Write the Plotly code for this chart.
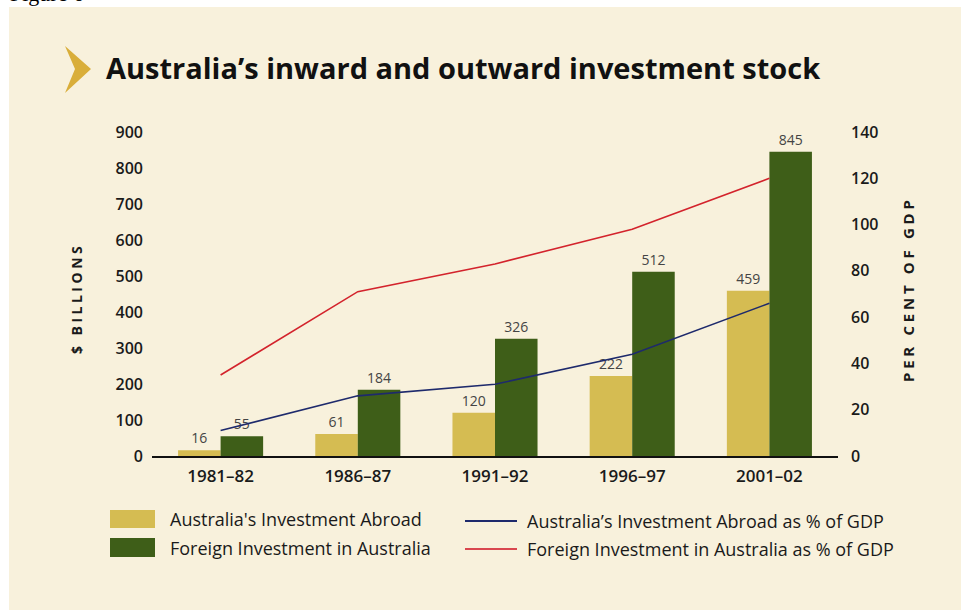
import plotly.graph_objects as go

# ---------------- data ----------------
years = ["1981–82", "1986–87", "1991–92", "1996–97", "2001–02"]
abroad = [16, 61, 120, 222, 459]           # $ billions
foreign = [55, 184, 326, 512, 845]         # $ billions
abroad_pct = [11, 26, 31, 44, 66]          # per cent of GDP
foreign_pct = [35, 71, 83, 98, 120]        # per cent of GDP
series_names = [
    "Australia's Investment Abroad",
    "Foreign Investment in Australia",
    "Australia’s Investment Abroad as % of GDP",
    "Foreign Investment in Australia as % of GDP",
]
left_ticks = list(range(0, 901, 100))
right_ticks = list(range(0, 141, 20))

# ---------------- geometry helpers ----------------
W, H = 961, 610
L, R, T, B = 152, 123, 132, 154
PW, PH = W - L - R, H - T - B


def px(x):
    return (x - L) / PW


def py(y):
    return (H - B - y) / PH


def spaced(s, gap="\u2005", word_gap="\u2002\u2005"):
    return word_gap.join(gap.join(word) for word in s.split(" "))


YELLOW = "#D5BC52"
GREEN = "#3E5E18"
BLUE = "#1E2A6C"
RED = "#D3232C"
CREAM = "#F8F1DC"
FONT = "Open Sans"
TICK_FONT = dict(family=FONT, size=16, color="#1a1a1a", weight=600)
XTICK_FONT = dict(family=FONT, size=17, color="#1a1a1a", weight=600)

fig = go.Figure()
fig.add_trace(go.Bar(
    x=years, y=abroad, name=series_names[0], marker_color=YELLOW,
    marker_line_width=0, text=abroad, textposition="outside",
    textfont=dict(family=FONT, size=14, color="#444444"), cliponaxis=False,
    showlegend=False,
))
fig.add_trace(go.Bar(
    x=years, y=foreign, name=series_names[1], marker_color=GREEN,
    marker_line_width=0, text=foreign, textposition="outside",
    textfont=dict(family=FONT, size=14, color="#444444"), cliponaxis=False,
    showlegend=False,
))
fig.add_trace(go.Scatter(
    x=years, y=abroad_pct, name=series_names[2], yaxis="y2", mode="lines",
    line=dict(color=BLUE, width=1.6), showlegend=False,
))
fig.add_trace(go.Scatter(
    x=years, y=foreign_pct, name=series_names[3], yaxis="y2", mode="lines",
    line=dict(color=RED, width=1.6), showlegend=False,
))

shapes = [
    # cream panel
    dict(type="rect", xref="paper", yref="paper", x0=px(9), x1=px(965),
         y0=py(615), y1=py(7), fillcolor=CREAM, line_width=0, layer="below"),
    # chevron
    dict(type="path", xref="paper", yref="paper",
         path=f"M {px(65)},{py(46)} L {px(91)},{py(69)} L {px(65)},{py(93)} L {px(75)},{py(69)} Z",
         fillcolor="#D9AE3A", line_width=0),
    # x axis baseline
    dict(type="line", xref="paper", yref="paper", x0=0, x1=1, y0=py(457), y1=py(457),
         line=dict(color="#111111", width=2)),
    # legend swatches
    dict(type="rect", xref="paper", yref="paper", x0=px(110), x1=px(155),
         y0=py(528), y1=py(510), fillcolor=YELLOW, line_width=0),
    dict(type="rect", xref="paper", yref="paper", x0=px(110), x1=px(155),
         y0=py(557), y1=py(538), fillcolor=GREEN, line_width=0),
    dict(type="line", xref="paper", yref="paper", x0=px(465), x1=px(517),
         y0=py(521), y1=py(521), line=dict(color=BLUE, width=2)),
    dict(type="line", xref="paper", yref="paper", x0=px(465), x1=px(517),
         y0=py(549), y1=py(549), line=dict(color="#D9474F", width=2)),
]

legend_font = dict(family=FONT, size=18, color="#1a1a1a", weight=500)
annotations = [
    dict(text="Figure 6", xref="paper", yref="paper", x=px(8), y=py(8),
         xanchor="left", yanchor="bottom", showarrow=False,
         font=dict(family="Liberation Serif", size=22, color="#000000")),
    dict(text="<b>Australia’s inward and outward investment stock</b>",
         xref="paper", yref="paper", x=px(104), y=py(67), xanchor="left",
         yanchor="middle", showarrow=False,
         font=dict(family=FONT, size=29, color="#111111")),
    dict(text="<b>" + spaced("$ BILLIONS") + "</b>",
         xref="paper", yref="paper", x=px(76), y=py(300), textangle=-90,
         xanchor="center", yanchor="middle", showarrow=False,
         font=dict(family=FONT, size=14, color="#1a1a1a")),
    dict(text="<b>" + spaced("PER CENT OF GDP") + "</b>",
         xref="paper", yref="paper", x=px(908), y=py(291), textangle=-90,
         xanchor="center", yanchor="middle", showarrow=False,
         font=dict(family=FONT, size=15, color="#1a1a1a")),
    dict(text=series_names[0], xref="paper", yref="paper", x=px(168), y=py(519),
         xanchor="left", yanchor="middle", showarrow=False, font=legend_font),
    dict(text=series_names[1], xref="paper", yref="paper", x=px(168), y=py(548),
         xanchor="left", yanchor="middle", showarrow=False, font=legend_font),
    dict(text=series_names[2], xref="paper", yref="paper", x=px(525), y=py(521),
         xanchor="left", yanchor="middle", showarrow=False, font=legend_font),
    dict(text=series_names[3], xref="paper", yref="paper", x=px(525), y=py(549),
         xanchor="left", yanchor="middle", showarrow=False, font=legend_font),
]

fig.update_layout(
    width=W, height=H,
    margin=dict(l=L, r=R, t=T, b=B, autoexpand=False),
    paper_bgcolor="#FFFFFF", plot_bgcolor="rgba(0,0,0,0)",
    barmode="group", bargap=0.38, bargroupgap=0,
    showlegend=False, hovermode=False,
    shapes=shapes, annotations=annotations,
    xaxis=dict(
        type="category", range=[-0.5, 4.5], showline=False, showgrid=False,
        ticks="", tickfont=XTICK_FONT, ticklabelstandoff=8, zeroline=False,
    ),
    yaxis=dict(
        range=[0, 900], tickvals=left_ticks, showgrid=False, zeroline=False,
        showline=False, ticks="", ticklabelstandoff=8, tickfont=TICK_FONT,
    ),
    yaxis2=dict(
        range=[0, 140], tickvals=right_ticks, overlaying="y", side="right",
        showgrid=False, zeroline=False, showline=False, ticks="",
        ticklabelstandoff=12, tickfont=TICK_FONT,
    ),
)

fig.write_html("out.html", config={"displayModeBar": False},
               post_script="document.body.style.margin='0';")
